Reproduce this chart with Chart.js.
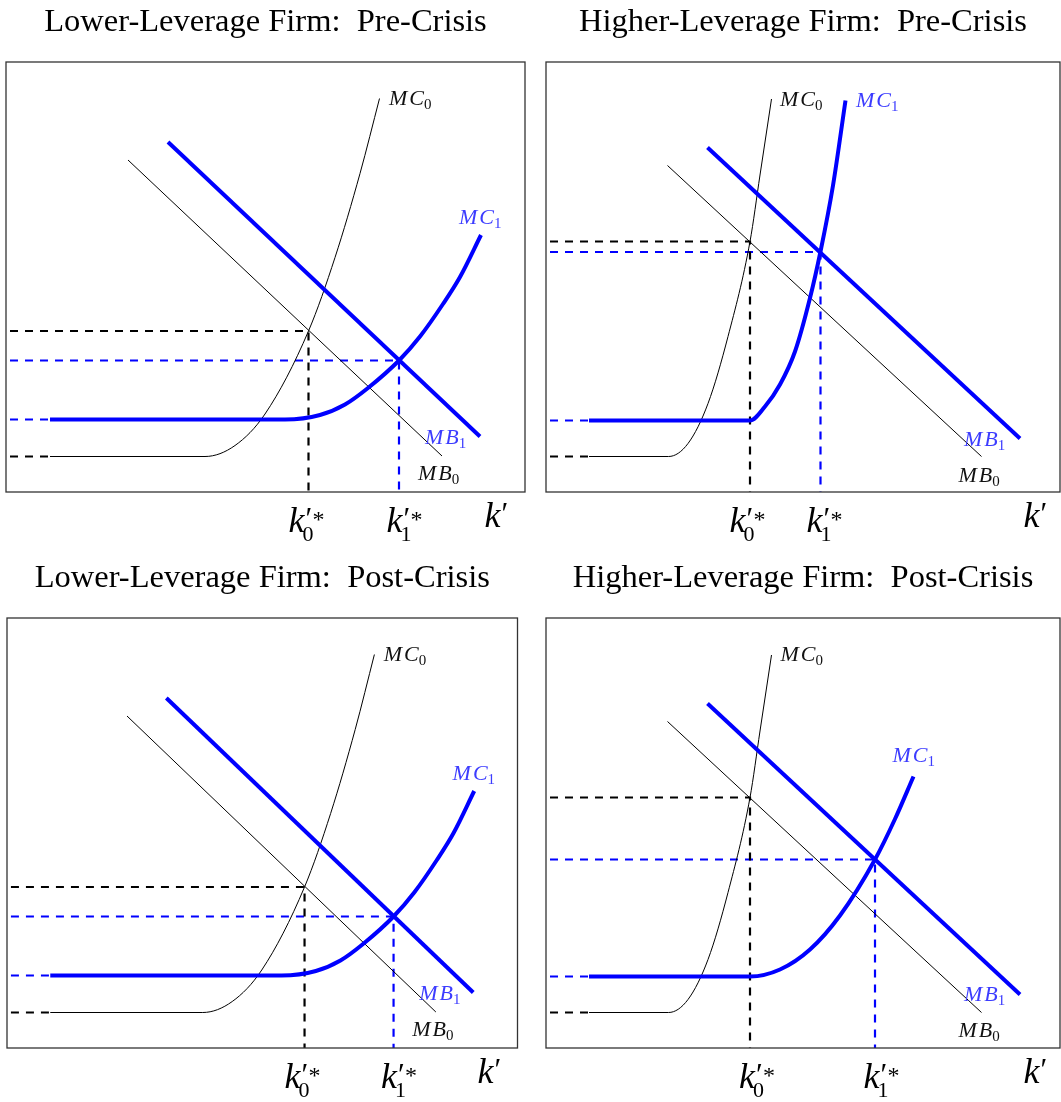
<!DOCTYPE html>
<html>
<head>
<meta charset="utf-8">
<script src="https://cdn.jsdelivr.net/npm/chart.js@4.4.1/dist/chart.umd.min.js"></script>
<style>
  body { margin: 0; background: #fff; }
  #wrap { position: relative; width: 1061px; height: 1102px; }
  canvas { position: absolute; }
</style>
</head>
<body>
<div id="wrap">
  <canvas id="lowPre" width="535" height="556" style="left:0;top:0"></canvas>
  <canvas id="highPre" width="526" height="556" style="left:535px;top:0"></canvas>
  <canvas id="lowPost" width="535" height="546" style="left:0;top:556px"></canvas>
  <canvas id="highPost" width="526" height="546" style="left:535px;top:556px"></canvas>
</div>
<script>
// curves, [k', cost/benefit] in arbitrary units
var dashStart = 0.8;   // where the dashed guides start on the k' axis

// lower-leverage firm (same curves before and after the crisis)
var lowMC0 = [[8.8,7.1],[39.8,7.1],[45.8,9.3],[51.8,15.6],[60.5,32.2],[65.8,46.9],[70.8,63.7],[74.7,78.7]];
var lowMC1 = [[8.8,14.5],[55.8,14.5],[62.8,15.4],[67.8,17.5],[72.4,20.8],[78.6,26.3],[82.8,31.1],[87.4,37.6],[90.8,43],[95,51.4]];
var lowMB0 = [[24.4,66.4],[87.2,7.2]];
var lowMB1 = [[32.4,70],[94.8,11.1]];
var lowEq = [[60.5,32.2],[78.6,26.3]];          // k0'*, k1'*
var lowTickX = [59.8, 79.4, 98];                  // k0'*, k1'*, k'

// higher-leverage firm
var highMC0 = [[8.6,7.1],[24.5,7.1],[28.4,9.7],[32.4,17.7],[36.4,31.1],[40.8,50.1],[42.8,63.4],[45.1,78.6]];
var highPreMC1 = [[8.6,14.3],[40.8,14.3],[43.8,17.1],[46.8,21.5],[49.8,28.1],[52.8,38.8],[54.9,48.1],[57.4,61.3],[59.9,78.3]];
var highPostMC1 = [[8.6,14.3],[40.8,14.3],[46.8,15.7],[52.8,19.7],[58.8,26.5],[65.8,37.7],[69.8,45.8],[73.5,54.3]];
var highMB0 = [[24.3,65.3],[87.1,7.1]];
var highMB1 = [[32.3,68.9],[94.8,10.7]];
var highPreEq = [[40.8,50.1],[54.9,48.0]];
var highPostEq = [[40.8,50.1],[65.8,37.7]];
var highPreTickX = [40, 55.4, 97.8];
var highPostTickX = [41.9, 66.8, 97.8];

// curve label anchors [k', value]: MC0, MC1, MB1, MB0
var lowLabels = [[76.6,78.8],[90.6,55],[83.8,11],[82.4,3.8]];
var highPreLabels = [[46.8,78.6],[62,78.4],[83.6,10.7],[82.5,3.4]];
var highPostLabels = [[46.9,78.9],[69.3,58.6],[83.6,10.9],[82.5,3.6]];

var BLUE = '#0000ff';
var LABEL_BLUE = '#3c3cff';
var SERIF = '"Liberation Serif", "DejaVu Serif", serif';

var pts = function(arr){
    return arr.map(function(p){ return {x: p[0], y: p[1]}; });
};

var line = function(arr, color, width, dash, smooth){
    return {
        data: pts(arr),
        showLine: true,
        borderColor: color,
        borderWidth: width,
        borderDash: dash || [],
        pointRadius: 0,
        fill: false,
        tension: 0,
        cubicInterpolationMode: smooth ? 'monotone' : 'default'
    };
};

var buildDatasets = function(mc0, mc1, mb0, mb1, eq){
    var dash = [8, 7];
    var e0 = eq[0], e1 = eq[1];
    return [
        line(mc1, BLUE, 4, null, true),
        line(mb1, BLUE, 4),
        line(mc0, '#000', 1, null, true),
        line(mb0, '#000', 1),
        line([[dashStart, e0[1]], e0, [e0[0], 0]], '#000', 2.2, dash),
        line([[dashStart, e1[1]], e1, [e1[0], 0]], BLUE, 2.2, dash),
        line([[dashStart, mc0[0][1]], mc0[0]], '#000', 2.2, dash),
        line([[dashStart, mc1[0][1]], mc1[0]], BLUE, 2.2, dash)
    ];
};

// frame, curve labels and k' labels
var mathText = {
    id: 'mathText',
    afterDatasetsDraw: function(chart, args, opts){
        var ctx = chart.ctx, area = chart.chartArea;
        var sx = chart.scales.x, sy = chart.scales.y;
        ctx.save();
        ctx.strokeStyle = '#333';
        ctx.lineWidth = 1.3;
        ctx.strokeRect(area.left, area.top, area.right - area.left, area.bottom - area.top);

        var names = [['MC','0','#111'], ['MC','1',LABEL_BLUE], ['MB','1',LABEL_BLUE], ['MB','0','#111']];
        ctx.textBaseline = 'alphabetic';
        ctx.textAlign = 'left';
        opts.labels.forEach(function(p, i){
            var x = sx.getPixelForValue(p[0]);
            var base = sy.getPixelForValue(p[1]) + 7;
            ctx.fillStyle = names[i][2];
            ctx.font = 'italic 22px ' + SERIF;
            var cx = x;
            for (var c = 0; c < names[i][0].length; c++) {
                ctx.fillText(names[i][0][c], cx, base);
                cx += ctx.measureText(names[i][0][c]).width + 2;
            }
            ctx.font = '15px ' + SERIF;
            ctx.fillText(names[i][1], cx - 2, base + 4);
        });

        ctx.fillStyle = '#000';
        var subs = ['0', '1', null];
        opts.ticks.forEach(function(v, i){
            var cx = sx.getPixelForValue(v);
            var sub = subs[i];
            ctx.font = 'italic 36px ' + SERIF;
            var wk = ctx.measureText('k').width;
            var total = wk + (sub ? 17 : 7);
            var x0 = cx - total / 2;
            var base = area.bottom + (sub ? 40 : 35);
            ctx.fillText('k', x0, base);
            ctx.font = '31px ' + SERIF;
            ctx.fillText('\u2032', x0 + wk + 1, base - 3);
            if (sub) {
                ctx.font = '24px ' + SERIF;
                ctx.fillText('*', x0 + wk + 8, base - 5);
                ctx.font = '22px ' + SERIF;
                ctx.fillText(sub, x0 + wk - 2, base + 9);
            }
        });
        ctx.restore();
    }
};

var newChart = function(id, title, datasets, xMax, pad, labels, ticks){
    var ctx = document.getElementById(id).getContext('2d');
    return new Chart(ctx, {
        type: 'scatter',
        data: { datasets: datasets },
        options: {
            responsive: false,
            animation: false,
            devicePixelRatio: 1,
            layout: { padding: pad },
            scales: {
                x: { type: 'linear', min: 0, max: xMax, display: false },
                y: { type: 'linear', min: 0, max: 86, display: false }
            },
            plugins: {
                legend: { display: false },
                tooltip: { enabled: false },
                title: {
                    display: true,
                    text: title,
                    color: '#000',
                    font: { family: SERIF, size: 32.5, weight: 'normal', lineHeight: 1.2 },
                    padding: { top: 3, bottom: 20 }
                },
                mathText: { labels: labels, ticks: ticks }
            }
        },
        plugins: [mathText]
    });
};

newChart('lowPre', 'Lower-Leverage Firm:  Pre-Crisis',
    buildDatasets(lowMC0, lowMC1, lowMB0, lowMB1, lowEq), 103.8,
    { left: 6, right: 10, top: 0, bottom: 64 }, lowLabels, lowTickX);
newChart('highPre', 'Higher-Leverage Firm:  Pre-Crisis',
    buildDatasets(highMC0, highPreMC1, highMB0, highMB1, highPreEq), 102.8,
    { left: 11, right: 1, top: 0, bottom: 64 }, highPreLabels, highPreTickX);
newChart('lowPost', 'Lower-Leverage Firm:  Post-Crisis',
    buildDatasets(lowMC0, lowMC1, lowMB0, lowMB1, lowEq), 103.8,
    { left: 7, right: 17.5, top: 0, bottom: 54 }, lowLabels, lowTickX);
newChart('highPost', 'Higher-Leverage Firm:  Post-Crisis',
    buildDatasets(highMC0, highPostMC1, highMB0, highMB1, highPostEq), 102.8,
    { left: 11, right: 1, top: 0, bottom: 54 }, highPostLabels, highPostTickX);
</script>
</body>
</html>
